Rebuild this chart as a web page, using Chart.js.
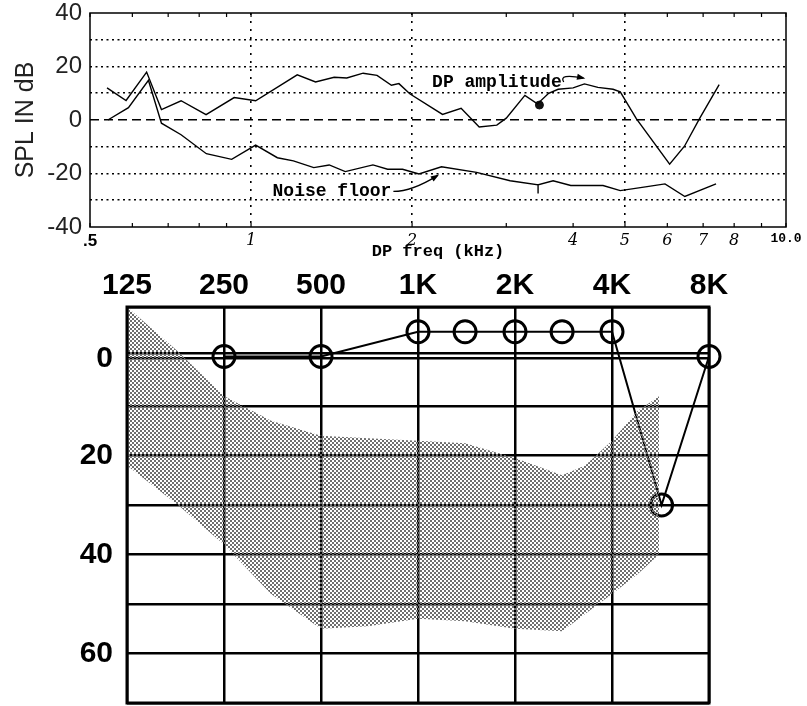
<!DOCTYPE html>
<html>
<head>
<meta charset="utf-8">
<script src="https://cdn.jsdelivr.net/npm/chart.js@4.4.1/dist/chart.umd.min.js"></script>
<style>
body { margin: 0; background: #fff; }
#wrap { position: relative; width: 807px; height: 706px; }
canvas { position: absolute; left: 0; }
</style>
</head>
<body>
<div id="wrap">
<canvas id="dpChart" width="807" height="262" style="top:0"></canvas>
<canvas id="audChart" width="807" height="444" style="top:262px"></canvas>
</div>
<script>
// ---- DP-gram (top) ----
const dpFreq = [0.538, 0.584, 0.638, 0.68, 0.74, 0.824, 0.93, 1.02, 1.22, 1.32, 1.43, 1.51, 1.62, 1.72, 1.83, 1.89, 1.98, 2.28, 2.47, 2.67, 2.88, 3.0, 3.25, 3.43, 3.6, 3.75, 4.0, 4.2, 4.45, 4.75, 4.9, 5.25, 6.06, 6.46, 6.9, 7.5];
const dpLevel = [12, 7.3, 17.9, 3.9, 7.2, 2, 8.4, 7.2, 16.9, 14.2, 16, 15.7, 17.5, 16.7, 13, 13.6, 9.8, 2.1, 4.4, -2.6, -1.9, 0.7, 9.2, 6, 10, 11.5, 12, 13.5, 12.2, 11.5, 10.5, 0.5, -16.5, -9.8, 0.7, 13.2];
const noiseFreq = [0.54, 0.59, 0.643, 0.68, 0.74, 0.825, 0.92, 1.02, 1.12, 1.2, 1.31, 1.4, 1.5, 1.69, 1.8, 1.92, 2.06, 2.27, 2.64, 3.05, 3.44, 3.44, 3.44, 3.67, 3.96, 4.55, 4.9, 5.5, 5.94, 6.47, 7.4];
const noiseLevel = [0, 4.6, 14.8, -1.2, -5.5, -12.6, -14.7, -9.4, -14.1, -15.3, -17.8, -16.8, -19.3, -16.8, -18.4, -18.4, -20.2, -17.5, -19.6, -22.7, -24.2, -27.5, -24.2, -22.7, -24.5, -24.5, -26.4, -24.9, -23.9, -28.6, -23.9];
const dotFreq = [3.46];
const dotLevel = [5.6];
const dpTicks = [0.5, 0.6, 0.7, 0.8, 0.9, 1, 2, 3, 4, 5, 6, 7, 8, 9, 10];
const dpTickLabels = {0.5: '.5', 1: '1', 2: '2', 4: '4', 5: '5', 6: '6', 7: '7', 8: '8', 10: '10.0'};
const splTicks = [-40, -30, -20, -10, 0, 10, 20, 30, 40];

// ---- audiogram (bottom) ----
const audFreq = [250, 500, 1000, 1400, 2000, 2800, 4000, 5700, 8000];
const audLevel = [0, 0, -5, -5, -5, -5, -5, 30, 0];
const shadeFreq = [125, 180, 250, 350, 500, 700, 1000, 1400, 2000, 2800, 3300, 4000, 4800, 5600];
const shadeUpper = [-10, -1, 8, 13, 16, 16.5, 17, 17.5, 20.5, 24, 22, 17, 11, 8];
const shadeLower = [22, 30, 38, 48, 55, 54.5, 53, 53.5, 55, 55.5, 52, 48, 44, 40];
const audTicks = [125, 250, 500, 1000, 2000, 4000, 8000];
const audTickLabels = ['125', '250', '500', '1K', '2K', '4K', '8K'];
const hlTicks = [-10, -0.6, 0.4, 10, 20, 30, 40, 50, 60, 70];
const hlLabels = {0.4: '0', 20: '20', 40: '40', 60: '60'};

const pts = (xs, ys) => xs.map((x, i) => ({x: x, y: ys[i]}));

const sans = '"Liberation Sans", Arial, sans-serif';
const mono = '"Liberation Mono", "Courier New", monospace';

function dpTickFont(v) {
    if (v === 0.5) return {family: sans, size: 17, weight: 'bold'};
    if (v === 10) return {family: mono, size: 13, weight: 'bold'};
    return {family: '"DejaVu Serif", serif', size: 16, style: 'italic'};
}

// annotations on the DP-gram, in data units
const dpNotes = [
    {text: 'DP amplitude', at: [2.18, 14.2], to: [4.18, 15.7], bend: [3.75, 17.5]},
    {text: 'Noise floor', at: [1.097, -26.7], to: [2.23, -20.8], bend: [2.0, -26.7]}
];

const dpFrame = {
    id: 'dpFrame',
    beforeDatasetsDraw(chart) {
        const {ctx, chartArea: a} = chart;
        const xs = chart.scales.x;
        ctx.save();
        ctx.strokeStyle = '#000';
        ctx.lineWidth = 1.5;
        ctx.strokeRect(a.left, a.top, a.right - a.left, a.bottom - a.top);
        ctx.lineWidth = 1.2;
        xs.ticks.forEach(t => {
            const px = xs.getPixelForValue(t.value);
            ctx.beginPath();
            ctx.moveTo(px, a.bottom); ctx.lineTo(px, a.bottom - 4);
            ctx.moveTo(px, a.top); ctx.lineTo(px, a.top + 4);
            ctx.stroke();
        });
        ctx.restore();
    }
};

const dpLabels = {
    id: 'dpLabels',
    afterDatasetsDraw(chart) {
        const {ctx} = chart;
        const xs = chart.scales.x, ys = chart.scales.y;
        ctx.save();
        ctx.font = 'bold 18px ' + mono;
        ctx.fillStyle = '#000';
        ctx.strokeStyle = '#000';
        ctx.lineWidth = 1.3;
        ctx.textBaseline = 'middle';
        dpNotes.forEach(n => {
            const px = xs.getPixelForValue(n.at[0]), py = ys.getPixelForValue(n.at[1]);
            ctx.fillText(n.text, px, py);
            const sx = px + ctx.measureText(n.text).width + 2;
            const cx = xs.getPixelForValue(n.bend[0]), cy = ys.getPixelForValue(n.bend[1]);
            const ex = xs.getPixelForValue(n.to[0]), ey = ys.getPixelForValue(n.to[1]);
            ctx.beginPath();
            ctx.moveTo(sx, py);
            ctx.quadraticCurveTo(cx, cy, ex, ey);
            ctx.stroke();
            const ang = Math.atan2(ey - cy, ex - cx);
            ctx.beginPath();
            ctx.moveTo(ex + 2 * Math.cos(ang), ey + 2 * Math.sin(ang));
            ctx.lineTo(ex - 7 * Math.cos(ang - 0.45), ey - 7 * Math.sin(ang - 0.45));
            ctx.lineTo(ex - 7 * Math.cos(ang + 0.45), ey - 7 * Math.sin(ang + 0.45));
            ctx.closePath();
            ctx.fill();
        });
        ctx.restore();
    }
};

var dpCanvas = document.getElementById('dpChart').getContext('2d');
var dpChart = new Chart(dpCanvas, {
    type: 'line',
    data: {
        datasets: [{
            label: 'DP amplitude',
            data: pts(dpFreq, dpLevel),
            borderColor: '#000',
            borderWidth: 1.4,
            pointRadius: 0,
            tension: 0
        }, {
            label: 'Noise floor',
            data: pts(noiseFreq, noiseLevel),
            borderColor: '#000',
            borderWidth: 1.4,
            pointRadius: 0,
            tension: 0
        }, {
            label: 'marker',
            data: pts(dotFreq, dotLevel),
            showLine: false,
            pointRadius: 4,
            pointBackgroundColor: '#111',
            pointBorderColor: '#111'
        }]
    },
    options: {
        responsive: false,
        animation: false,
        layout: {autoPadding: false, padding: {top: 13, right: 21, bottom: 0, left: 0}},
        plugins: {legend: {display: false}, tooltip: {enabled: false}},
        scales: {
            x: {
                type: 'logarithmic',
                min: 0.5,
                max: 10,
                afterBuildTicks: s => { s.ticks = dpTicks.map(v => ({value: v})); },
                afterFit: s => { s.height = 35; s.paddingLeft = 0; s.paddingRight = 0; },
                ticks: {
                    autoSkip: false,
                    maxRotation: 0,
                    padding: 4,
                    color: '#000',
                    callback: v => dpTickLabels[v] || '',
                    font: ctx => dpTickFont(ctx.tick ? ctx.tick.value : 1)
                },
                grid: {
                    drawTicks: false,
                    lineWidth: 1.6,
                    color: ctx => (ctx.tick && [1, 2, 5].includes(ctx.tick.value)) ? '#000' : 'rgba(0,0,0,0)'
                },
                border: {display: false, dash: [2, 6]},
                title: {
                    display: true,
                    text: 'DP freq (kHz)',
                    color: '#000',
                    font: {family: mono, size: 17, weight: 'bold'},
                    padding: {top: 0, bottom: 0}
                }
            },
            y: {
                min: -40,
                max: 40,
                afterBuildTicks: s => { s.ticks = splTicks.map(v => ({value: v})); },
                afterFit: s => { s.width = 90; s.paddingTop = 0; s.paddingBottom = 0; },
                ticks: {
                    autoSkip: false,
                    padding: 8,
                    color: '#222',
                    font: {family: sans, size: 24},
                    callback: v => (v % 20 === 0 ? String(v) : '')
                },
                grid: {
                    drawTicks: false,
                    lineWidth: 1.6,
                    color: ctx => (ctx.tick && Math.abs(ctx.tick.value) < 40) ? '#000' : 'rgba(0,0,0,0)'
                },
                border: {
                    display: false,
                    dash: ctx => (ctx.tick && ctx.tick.value === 0) ? [9, 5] : [2, 3.5]
                },
                title: {
                    display: true,
                    text: 'SPL IN dB',
                    color: '#222',
                    font: {family: sans, size: 25},
                    padding: {top: 11, bottom: 0}
                }
            }
        }
    },
    plugins: [dpFrame, dpLabels]
});

// ---- audiogram ----
var audCanvas = document.getElementById('audChart').getContext('2d');

function stipple(ctx) {
    const tile = document.createElement('canvas');
    tile.width = 4;
    tile.height = 4;
    const g = tile.getContext('2d');
    g.fillStyle = '#6e6e6e';
    g.fillRect(0, 0, 2, 2);
    g.fillRect(2, 2, 2, 2);
    return ctx.createPattern(tile, 'repeat');
}

const audFrame = {
    id: 'audFrame',
    afterDraw(chart) {
        const {ctx, chartArea: a} = chart;
        ctx.save();
        ctx.strokeStyle = '#000';
        ctx.lineWidth = 3;
        ctx.strokeRect(a.left, a.top, a.right - a.left, a.bottom - a.top);
        ctx.restore();
    }
};

var audChart = new Chart(audCanvas, {
    type: 'line',
    data: {
        datasets: [{
            label: 'range top',
            data: pts(shadeFreq, shadeUpper),
            fill: '+1',
            backgroundColor: stipple(audCanvas),
            borderWidth: 0,
            pointRadius: 0,
            tension: 0
        }, {
            label: 'range bottom',
            data: pts(shadeFreq, shadeLower),
            fill: false,
            borderWidth: 0,
            pointRadius: 0,
            tension: 0
        }, {
            label: 'thresholds',
            data: pts(audFreq, audLevel),
            borderColor: '#000',
            borderWidth: 2,
            pointRadius: 11,
            pointBorderWidth: 3,
            pointBorderColor: '#000',
            pointBackgroundColor: 'rgba(0,0,0,0)',
            tension: 0,
            clip: false
        }]
    },
    options: {
        responsive: false,
        animation: false,
        layout: {autoPadding: false, padding: {top: 0, right: 98, bottom: 3, left: 0}},
        plugins: {legend: {display: false}, tooltip: {enabled: false}},
        scales: {
            x: {
                type: 'logarithmic',
                position: 'top',
                min: 125,
                max: 8000,
                afterBuildTicks: s => { s.ticks = audTicks.map(v => ({value: v})); },
                afterFit: s => { s.height = 45; s.paddingLeft = 0; s.paddingRight = 0; },
                ticks: {
                    autoSkip: false,
                    maxRotation: 0,
                    padding: 3,
                    color: '#000',
                    font: {family: sans, size: 30, weight: 'bold'},
                    callback: (v, i) => audTickLabels[i]
                },
                grid: {drawTicks: false, color: '#000', lineWidth: 2.5},
                border: {display: false}
            },
            y: {
                min: -10,
                max: 70,
                reverse: true,
                afterBuildTicks: s => { s.ticks = hlTicks.map(v => ({value: v})); },
                afterFit: s => { s.width = 127; s.paddingTop = 0; s.paddingBottom = 0; },
                ticks: {
                    autoSkip: false,
                    padding: 14,
                    color: '#000',
                    font: {family: sans, size: 30, weight: 'bold'},
                    callback: v => hlLabels[v] || ''
                },
                grid: {drawTicks: false, color: '#000', lineWidth: 2.5},
                border: {display: false}
            }
        }
    },
    plugins: [audFrame]
});
</script>
</body>
</html>
